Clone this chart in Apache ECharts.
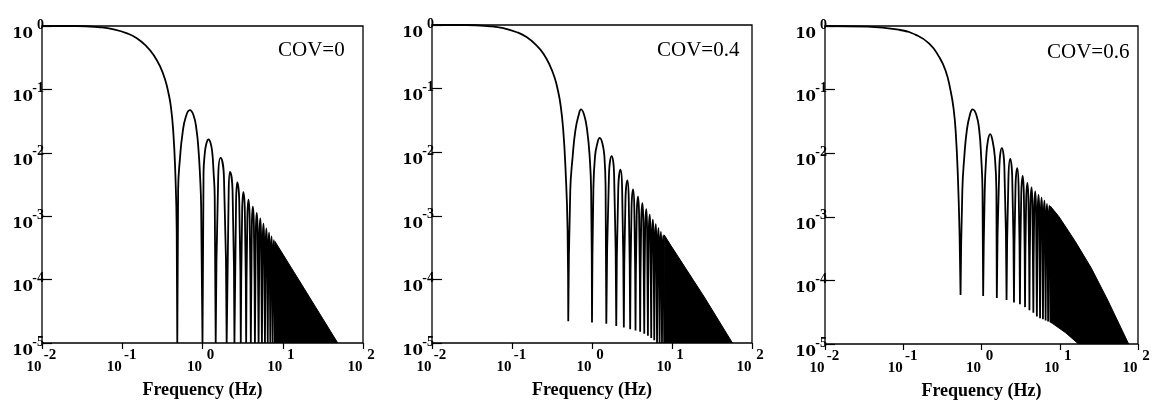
<!DOCTYPE html>
<html>
<head>
<meta charset="utf-8">
<title>COV spectra</title>
<script src="https://cdn.jsdelivr.net/npm/echarts@6/dist/echarts.min.js"></script>
<style>
    html, body { margin: 0; padding: 0; background: #fff; }
    #main { width: 1157px; height: 407px; }
</style>
</head>
<body>
<div id="main"></div>
<script>
// panel captions
var covLabels = ['COV=0', 'COV=0.4', 'COV=0.6'];

// ---- COV = 0 ----  [Hz, amplitude]
var mainLobe1 = [[0.01, 1], [0.027, 1], [0.053, 0.953], [0.078, 0.886], [0.115, 0.766], [0.152, 0.64],
    [0.203, 0.47], [0.246, 0.35], [0.297, 0.228], [0.343, 0.141], [0.377, 0.087], [0.404, 0.053],
    [0.431, 0.023], [0.457, 0.0054], [0.477, 0.0006], [0.485, 1e-5]];
var nulls1 = [0.485, 1.0, 1.46, 2.0, 2.5, 3.0, 3.5, 4.0, 4.5, 5.0, 5.5, 6.0, 6.5, 7.0, 7.5, 8.0];
var floors1 = [1e-5, 1e-5, 1e-5, 1e-5, 1e-5, 1e-5, 1e-5, 1e-5, 1e-5, 1e-5, 1e-5, 1e-5, 1e-5, 1e-5, 1e-5, 1e-5];
var peaks1 = [[0.695, 0.047], [1.19, 0.0163], [1.68, 0.0083], [2.2, 0.005], [2.71, 0.0034], [3.23, 0.0024],
    [3.74, 0.00183], [4.24, 0.00142], [4.74, 0.00113], [5.25, 0.00092], [5.75, 0.00076], [6.25, 0.00064],
    [6.75, 0.00055], [7.25, 0.00048], [7.75, 0.00042]];
var shoulders1 = [[0.497, 2.6e-3], [0.526, 8.7e-3], [0.564, 0.0203], [0.62, 0.037], [0.773, 0.039],
    [0.842, 0.023], [0.892, 0.011], [0.933, 4.2e-3], [0.962, 1.4e-3],
    [1.03, 4.8e-3], [1.068, 9.8e-3], [1.12, 0.0141], [1.258, 0.0144], [1.32, 0.0104], [1.37, 5.3e-3], [1.42, 2e-3],
    [1.57, 0.0042], [1.85, 0.0042], [2.12, 0.0025], [2.37, 0.0025], [2.62, 0.0017], [2.87, 0.0017],
    [3.12, 0.0012], [3.37, 0.0012], [3.62, 0.00092], [3.87, 0.00092], [4.12, 0.00071], [4.37, 0.00071],
    [4.62, 0.00057], [4.87, 0.00057], [5.12, 0.00046], [5.37, 0.00046], [5.62, 0.00038], [5.87, 0.00038],
    [6.12, 0.00032], [6.37, 0.00032], [6.62, 0.00028], [6.87, 0.00028], [7.12, 0.00024], [7.37, 0.00024],
    [7.62, 0.00021], [7.87, 0.00021]];
var dense1 = [[8, 4.0e-4], [17.6, 8e-5], [48.5, 1e-5], [8, 1e-5]];

// ---- COV = 0.4 ----
var mainLobe2 = [[0.01, 1], [0.027, 1], [0.053, 0.955], [0.078, 0.89], [0.115, 0.77], [0.152, 0.645],
    [0.203, 0.475], [0.246, 0.355], [0.297, 0.232], [0.343, 0.145], [0.377, 0.09], [0.404, 0.056],
    [0.435, 0.024], [0.465, 0.006], [0.495, 0.0006], [0.505, 2.2e-5]];
var nulls2 = [0.505, 1.0, 1.51, 2.01, 2.5, 3.0, 3.5, 4.0, 4.5, 5.0, 5.5, 6.0, 6.5, 7.0, 7.5, 8.0];
var floors2 = [2.2e-5, 2.1e-5, 2.0e-5, 1.85e-5, 1.75e-5, 1.65e-5, 1.57e-5, 1.5e-5, 1.4e-5, 1.3e-5, 1.2e-5,
    1.1e-5, 1.0e-5, 1e-5, 1e-5, 1e-5];
var peaks2 = [[0.73, 0.047], [1.25, 0.0168], [1.76, 0.0087], [2.27, 0.0053], [2.77, 0.0036], [3.26, 0.0026],
    [3.76, 0.002], [4.27, 0.00158], [4.77, 0.00127], [5.27, 0.00104], [5.77, 0.00087], [6.27, 0.00074],
    [6.77, 0.00064], [7.27, 0.00056], [7.77, 0.00049]];
var shoulders2 = [[0.535, 2.5e-3], [0.573, 8.5e-3], [0.62, 0.022], [0.68, 0.038], [0.8, 0.038], [0.87, 0.022],
    [0.935, 8.5e-3], [0.975, 2.5e-3],
    [1.04, 2.5e-3], [1.09, 8.5e-3], [1.165, 0.0137], [1.35, 0.0137], [1.43, 8.5e-3], [1.48, 2.5e-3],
    [1.63, 0.0044], [1.89, 0.0044], [2.13, 0.0027], [2.38, 0.0027], [2.62, 0.0018], [2.88, 0.0018],
    [3.12, 0.0013], [3.38, 0.0013], [3.62, 0.001], [3.88, 0.001], [4.12, 0.00079], [4.38, 0.00079],
    [4.62, 0.00064], [4.88, 0.00064], [5.12, 0.00052], [5.38, 0.00052], [5.62, 0.00044], [5.88, 0.00044],
    [6.12, 0.00037], [6.38, 0.00037], [6.62, 0.00032], [6.88, 0.00032], [7.12, 0.00028], [7.38, 0.00028],
    [7.62, 0.00025], [7.88, 0.00025]];
var dense2 = [[8, 5.0e-4], [9.7, 3.4e-4], [25.3, 5.3e-5], [57, 1e-5], [8, 1e-5]];

// ---- COV = 0.6 ----
var mainLobe3 = [[0.01, 1], [0.035, 0.98], [0.091, 0.865], [0.147, 0.72], [0.215, 0.53], [0.286, 0.33],
    [0.347, 0.2], [0.4, 0.1], [0.44, 0.05], [0.47, 0.02], [0.5, 4e-3], [0.525, 5e-4], [0.54, 5.9e-5]];
var nulls3 = [0.54, 1.05, 1.57, 2.09, 2.6, 3.1, 3.6, 4.1, 4.6, 5.1, 5.6, 6.1, 6.6, 7.1, 7.6];
var floors3 = [5.9e-5, 5.7e-5, 5.3e-5, 4.9e-5, 4.5e-5, 4.2e-5, 3.8e-5, 3.4e-5, 3.1e-5, 2.7e-5, 2.55e-5,
    2.45e-5, 2.35e-5, 2.25e-5, 2.2e-5];
var peaks3 = [[0.77, 0.049], [1.29, 0.02], [1.82, 0.012], [2.33, 0.0081], [2.86, 0.0058], [3.36, 0.0044],
    [3.86, 0.0034], [4.36, 0.0029], [4.86, 0.0025], [5.36, 0.0022], [5.86, 0.002], [6.37, 0.0018],
    [6.87, 0.0016], [7.37, 0.0015]];
var shoulders3 = [[0.569, 2.6e-3], [0.603, 8.8e-3], [0.65, 0.023], [0.71, 0.04], [0.86, 0.04], [0.935, 0.023],
    [0.99, 8.8e-3], [1.03, 2.6e-3],
    [1.1, 2.6e-3], [1.15, 8.8e-3], [1.21, 0.016], [1.38, 0.016], [1.48, 8.8e-3], [1.55, 2.6e-3],
    [1.69, 0.006], [1.96, 0.006], [2.21, 0.0041], [2.47, 0.0041], [2.72, 0.0029], [2.98, 0.0029],
    [3.22, 0.0022], [3.48, 0.0022], [3.72, 0.0017], [3.98, 0.0017], [4.22, 0.00145], [4.48, 0.00145],
    [4.72, 0.00125], [4.98, 0.00125], [5.22, 0.0011], [5.48, 0.0011], [5.72, 0.001], [5.98, 0.001],
    [6.22, 0.0009], [6.48, 0.0009], [6.72, 0.0008], [6.98, 0.0008], [7.22, 0.00075], [7.48, 0.00075]];
var dense3 = [[7.6, 1.47e-3], [9.8, 1.0e-3], [15.8, 4.1e-4], [25.4, 1.55e-4], [41, 4.9e-5], [76, 1e-5],
    [17.4, 1e-5], [11.9, 1.5e-5], [8.1, 2.1e-5], [7.6, 2.2e-5]];

// join main lobe and side lobes into one broken polyline
function buildCurve(main, nulls, floors, peaks, shoulders) {
    var data = main.slice();
    for (var k = 0; k < peaks.length; k++) {
        var lo = nulls[k], hi = nulls[k + 1];
        var pts = [peaks[k]];
        shoulders.forEach(function (p) {
            if (p[0] > lo && p[0] < hi) pts.push(p);
        });
        pts.sort(function (a, b) { return a[0] - b[0]; });
        data.push(['-', '-']);
        data.push([lo, floors[k]]);
        data = data.concat(pts);
        data.push([hi, floors[k + 1]]);
    }
    return data;
}

var curves = [
    buildCurve(mainLobe1, nulls1, floors1, peaks1, shoulders1),
    buildCurve(mainLobe2, nulls2, floors2, peaks2, shoulders2),
    buildCurve(mainLobe3, nulls3, floors3, peaks3, shoulders3)
];
var denseAreas = [dense1, dense2, dense3];

var serif = 'Liberation Serif';

function expOf(v) {
    return Math.round(Math.log(v) / Math.LN10);
}

var grids = [
    { left: 42, top: 26, width: 321, height: 317 },
    { left: 432, top: 25, width: 320, height: 318 },
    { left: 825, top: 26, width: 322, height: 318 }
];
var covPos = [[278, 40], [657, 40], [1047, 42]];

var option = {
    animation: false,
    backgroundColor: '#fff',
    title: covLabels.map(function (t, i) {
        return {
            text: t, left: covPos[i][0], top: covPos[i][1], padding: 0,
            textStyle: { fontFamily: serif, fontWeight: 'normal', fontSize: 21, color: '#000' }
        };
    }),
    grid: grids.map(function (g) {
        return {
            left: g.left, top: g.top, width: g.width, height: g.height,
            show: true, borderColor: '#000', borderWidth: 1.3, backgroundColor: 'transparent'
        };
    }),
    xAxis: grids.map(function (g, i) {
        return {
            type: 'log', gridIndex: i, logBase: 10, min: 0.01, max: 100, splitNumber: 4,
            name: 'Frequency (Hz)', nameLocation: 'middle', nameGap: 38,
            nameTextStyle: { fontFamily: serif, fontWeight: 'bold', fontSize: 18, color: '#000' },
            axisLine: { show: false },
            axisTick: { show: true, inside: false, length: 6, lineStyle: { color: '#000', width: 1.2 } },
            minorTick: { show: false },
            splitLine: { show: false },
            axisLabel: {
                margin: 11, showMinLabel: true, showMaxLabel: true,
                formatter: function (v) { return '{b|10}{e|' + expOf(v) + '}'; },
                rich: {
                    b: { fontFamily: serif, fontWeight: 'bold', fontSize: 15, color: '#000', width: 16,
                        lineHeight: 15, padding: [12, 0, 0, 0], verticalAlign: 'middle' },
                    e: { fontFamily: serif, fontWeight: 'bold', fontSize: 15, color: '#000', width: 16,
                        lineHeight: 15, padding: [0, 0, 12, 0], verticalAlign: 'middle' }
                }
            }
        };
    }),
    yAxis: grids.map(function (g, i) {
        return {
            type: 'log', gridIndex: i, logBase: 10, min: 1e-5, max: 1, splitNumber: 5,
            axisLine: { show: false },
            axisTick: { show: true, inside: true, length: 10, lineStyle: { color: '#000', width: 1.2 } },
            minorTick: { show: false },
            splitLine: { show: false },
            axisLabel: {
                margin: -2, showMinLabel: true, showMaxLabel: true,
                formatter: function (v) { return '{b|10}{e|' + expOf(v) + '}'; },
                rich: {
                    b: { fontFamily: 'DejaVu Serif', fontWeight: 'bold', fontSize: 15, color: '#000',
                        lineHeight: 15, padding: [16, 0, 0, 0], verticalAlign: 'middle' },
                    e: { fontFamily: serif, fontWeight: 'bold', fontSize: 14, color: '#000', width: 11,
                        lineHeight: 14, padding: [0, 0, 2, 0], verticalAlign: 'middle' }
                }
            }
        };
    }),
    series: []
};

curves.forEach(function (data, i) {
    option.series.push({
        type: 'line', xAxisIndex: i, yAxisIndex: i,
        data: data,
        smooth: 0.5,
        showSymbol: false, symbol: 'none',
        connectNulls: false,
        clip: true,
        lineStyle: { color: '#000', width: 1.8 },
        z: 3
    });
    var poly = denseAreas[i];
    option.series.push({
        type: 'custom', xAxisIndex: i, yAxisIndex: i,
        data: [poly[0]],
        clip: true,
        silent: true,
        renderItem: function (params, api) {
            var pts = poly.map(function (p) { return api.coord(p); });
            return {
                type: 'polygon',
                shape: { points: pts },
                style: { fill: '#000', stroke: '#000', lineWidth: 1 }
            };
        },
        z: 2
    });
});

var myChart = echarts.init(document.getElementById('main'));
myChart.setOption(option);
</script>
</body>
</html>
